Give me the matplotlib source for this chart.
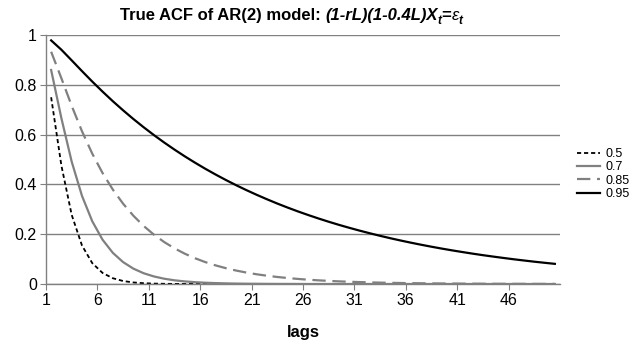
import matplotlib
matplotlib.use("Agg")
import matplotlib.pyplot as plt

plt.rcParams['font.family'] = ['Liberation Sans', 'DejaVu Sans']

# true ACF values, lags 1..50
lags = list(range(1, 51))
acf_05 = [0.75, 0.475, 0.2775, 0.1548, 0.0838, 0.0445, 0.0232, 0.0120, 0.0062, 0.0032,
          0.0016, 0.0008, 0.0004, 0.0002, 0.0001] + [0.0] * 35
acf_07 = [0.8594, 0.6653, 0.4912, 0.3541, 0.2519, 0.1780, 0.1252, 0.0879, 0.0617, 0.0432,
          0.0303, 0.0212, 0.0148, 0.0104, 0.0073, 0.0051, 0.0036, 0.0025, 0.0017, 0.0012,
          0.0009, 0.0006, 0.0004, 0.0003, 0.0002] + [0.0] * 25
acf_085 = [0.9328, 0.8260, 0.7154, 0.6134, 0.5235, 0.4458, 0.3793, 0.3225, 0.2742, 0.2331,
           0.1981, 0.1684, 0.1432, 0.1217, 0.1034, 0.0879, 0.0747, 0.0635, 0.0540, 0.0459,
           0.0390, 0.0332, 0.0282, 0.0240, 0.0204, 0.0173, 0.0147, 0.0125, 0.0106, 0.0090,
           0.0077, 0.0065, 0.0055, 0.0047, 0.0040, 0.0034, 0.0029, 0.0025, 0.0021, 0.0018,
           0.0015, 0.0013, 0.0011, 0.0009, 0.0008, 0.0007, 0.0006, 0.0005, 0.0004, 0.0004]
acf_095 = [0.9783, 0.9407, 0.8981, 0.8550, 0.8130, 0.7727, 0.7341, 0.6975, 0.6626, 0.6295,
           0.5980, 0.5681, 0.5397, 0.5127, 0.4871, 0.4627, 0.4396, 0.4176, 0.3967, 0.3769,
           0.3581, 0.3402, 0.3231, 0.3070, 0.2916, 0.2771, 0.2632, 0.2500, 0.2375, 0.2257,
           0.2144, 0.2037, 0.1935, 0.1838, 0.1746, 0.1659, 0.1576, 0.1497, 0.1422, 0.1351,
           0.1284, 0.1219, 0.1158, 0.1101, 0.1046, 0.0993, 0.0944, 0.0896, 0.0852, 0.0809]
series_labels = ['0.5', '0.7', '0.85', '0.95']
x_tick_labels = ['1', '6', '11', '16', '21', '26', '31', '36', '41', '46']
y_tick_labels = ['0', '0.2', '0.4', '0.6', '0.8', '1']

fig = plt.figure(figsize=(6.43, 3.46), dpi=100)
ax = fig.add_axes([46 / 643, 1 - 284 / 346, 514 / 643, 249 / 346])

ax.plot(lags, acf_05, color='black', lw=1.3, ls=(0, (2.3, 1.6)), label=series_labels[0])
ax.plot(lags, acf_07, color='#808080', lw=1.6, label=series_labels[1])
ax.plot(lags, acf_085, color='#808080', lw=1.6, ls=(0, (6, 3)), label=series_labels[2])
ax.plot(lags, acf_095, color='black', lw=1.6, label=series_labels[3])

ax.set_xlim(0.5, 50.5)
ax.set_ylim(0, 1)
# category labels sit at the left edge of each category, like the original
ax.set_xticks([int(s) - 0.5 for s in x_tick_labels])
ax.set_xticklabels(x_tick_labels)
ax.set_yticks([float(s) for s in y_tick_labels])
ax.set_yticklabels(y_tick_labels)
ax.tick_params(labelsize=11.5, colors='black', length=4, width=0.8, color='#808080', pad=2.5)
ax.yaxis.grid(True, color='#808080', lw=1)
ax.set_axisbelow(True)
for s in ['top', 'right']:
    ax.spines[s].set_visible(False)
for s in ['left', 'bottom']:
    ax.spines[s].set_color('#808080')
    ax.spines[s].set_linewidth(1)

ax.set_xlabel('lags', fontsize=12, fontweight='bold', labelpad=12)

fig.legend(loc='center left', bbox_to_anchor=(571 / 643, 1 - 174 / 346), frameon=False,
           fontsize=9, handlelength=1.8, handletextpad=0.5, labelspacing=0.1,
           borderpad=0)

# title with italic model part
t1 = fig.text(120 / 643, 1 - 20 / 346, 'True ACF of AR(2) model: ', fontsize=12,
              fontweight='bold', ha='left', va='baseline')
t2 = fig.add_artist(plt.Annotation('(1-rL)(1-0.4L)X', xy=(1, 0), xycoords=t1, va='bottom',
                                   fontsize=12, fontweight='bold', style='italic'))
t3 = fig.add_artist(plt.Annotation('t', xy=(1, 0), xycoords=t2, xytext=(0, -3),
                                   textcoords='offset points', va='bottom',
                                   fontsize=8.5, fontweight='bold', style='italic'))
t4 = fig.add_artist(plt.Annotation('=', xy=(1, 0), xycoords=(t3, t2), va='bottom',
                                   fontsize=12, fontweight='bold'))
t5 = fig.add_artist(plt.Annotation('ε', xy=(1, 0), xycoords=t4, va='bottom',
                                   fontsize=12, style='italic'))
t6 = fig.add_artist(plt.Annotation('t', xy=(1, 0), xycoords=t5, xytext=(0, -3),
                                   textcoords='offset points', va='bottom',
                                   fontsize=8.5, fontweight='bold', style='italic'))

fig.savefig('out.png', dpi=100)
